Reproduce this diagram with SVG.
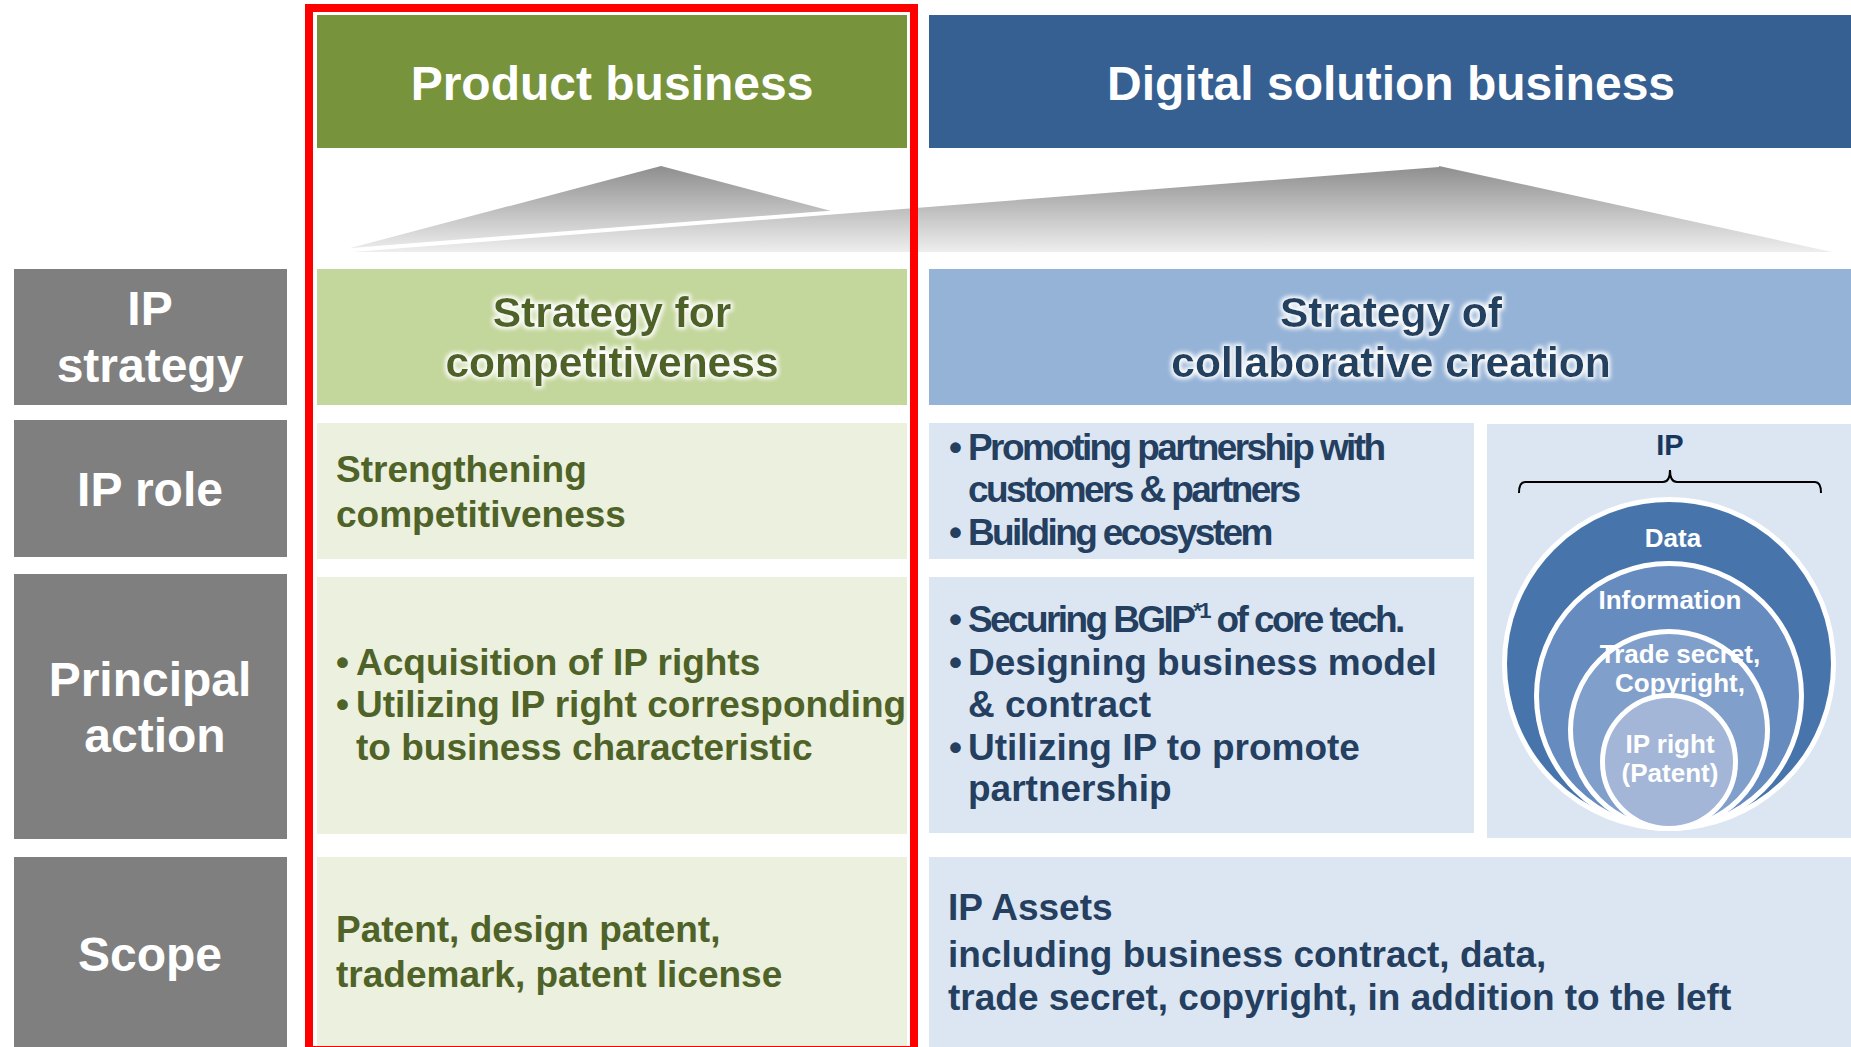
<svg xmlns="http://www.w3.org/2000/svg" width="1851" height="1047" viewBox="0 0 1851 1047">
  <style>
    text { font-family: "Liberation Sans", Arial, sans-serif; font-weight: bold; }
    .hdr { font-size: 48px; fill: #ffffff; text-anchor: middle; }
    .lbl { font-size: 48px; fill: #ffffff; text-anchor: middle; }
    .strat { font-size: 42.5px; text-anchor: middle; }
    .g { fill: #4F6228; }
    .b { fill: #243F60; }
    .body { font-size: 37px; }
    .cond { letter-spacing: -2.6px; }
    .circ { font-size: 26px; fill: #ffffff; text-anchor: middle; }
    .ring { stroke: #ffffff; stroke-width: 5; }
  </style>
  <defs>
    <linearGradient id="tri" gradientUnits="userSpaceOnUse" x1="0" y1="166" x2="0" y2="252">
      <stop offset="0" stop-color="#8E8E8E"/>
      <stop offset="1" stop-color="#EEEEEE"/>
    </linearGradient>
    <filter id="glow" x="-10%" y="-40%" width="120%" height="180%">
      <feMorphology in="SourceAlpha" operator="dilate" radius="1.5" result="d"/>
      <feGaussianBlur in="d" stdDeviation="2" result="bl"/>
      <feFlood flood-color="#ffffff" result="w"/>
      <feComposite in="w" in2="bl" operator="in" result="glowc"/>
      <feMerge>
        <feMergeNode in="glowc"/>
        <feMergeNode in="SourceGraphic"/>
      </feMerge>
    </filter>
  </defs>

  <rect x="0" y="0" width="1851" height="1047" fill="#ffffff"/>

  <!-- Headers -->
  <g id="header-product">
    <rect x="317" y="15" width="590" height="133" fill="#77933C"/>
    <text class="hdr" x="612" y="100">Product business</text>
  </g>
  <g id="header-digital">
    <rect x="929" y="15" width="922" height="133" fill="#366092"/>
    <text class="hdr" x="1391" y="100">Digital solution business</text>
  </g>

  <!-- Gradient triangles -->
  <g id="triangles">
    <polygon points="339,251 661,166 983,251" fill="url(#tri)"/>
    <polygon points="339,252 1439,166 1832,252" fill="url(#tri)"/>
    <line x1="339" y1="251" x2="1439" y2="165" stroke="#ffffff" stroke-width="4"/>
  </g>

  <!-- Row labels -->
  <g id="label-ip-strategy">
    <rect x="14" y="269" width="273" height="136" fill="#7F7F7F"/>
    <text class="lbl" x="150" y="325">IP</text>
    <text class="lbl" x="150" y="382">strategy</text>
  </g>
  <g id="label-ip-role">
    <rect x="14" y="420" width="273" height="137" fill="#7F7F7F"/>
    <text class="lbl" x="150" y="506">IP role</text>
  </g>
  <g id="label-principal-action">
    <rect x="14" y="574" width="273" height="265" fill="#7F7F7F"/>
    <text class="lbl" x="150" y="696">Principal</text>
    <text class="lbl" x="155" y="752">action</text>
  </g>
  <g id="label-scope">
    <rect x="14" y="857" width="273" height="190" fill="#7F7F7F"/>
    <text class="lbl" x="150" y="971">Scope</text>
  </g>

  <!-- Product business column -->
  <g id="product-strategy">
    <rect x="317" y="269" width="590" height="136" fill="#C3D69B"/>
    <text class="strat g" filter="url(#glow)"><tspan x="612" y="327">Strategy for</tspan><tspan x="612" y="377">competitiveness</tspan></text>
  </g>
  <g id="product-role">
    <rect x="317" y="423" width="590" height="136" fill="#EBF1DE"/>
    <text class="g body"><tspan x="336" y="482">Strengthening</tspan><tspan x="336" y="527">competitiveness</tspan></text>
  </g>
  <g id="product-action">
    <rect x="317" y="577" width="590" height="257" fill="#EBF1DE"/>
    <text class="g body"><tspan x="336" y="675">•</tspan><tspan x="356" y="675">Acquisition of IP rights</tspan><tspan x="336" y="717">•</tspan><tspan x="356" y="717">Utilizing IP right corresponding</tspan><tspan x="356" y="760">to business characteristic</tspan></text>
  </g>
  <g id="product-scope">
    <rect x="317" y="857" width="590" height="190" fill="#EBF1DE"/>
    <text class="g body"><tspan x="336" y="942">Patent, design patent,</tspan><tspan x="336" y="987">trademark, patent license</tspan></text>
  </g>

  <!-- Digital solution column -->
  <g id="digital-strategy">
    <rect x="929" y="269" width="922" height="136" fill="#95B3D7"/>
    <text class="strat b" filter="url(#glow)"><tspan x="1391" y="327">Strategy of</tspan><tspan x="1391" y="377">collaborative creation</tspan></text>
  </g>
  <g id="digital-role">
    <rect x="929" y="423" width="545" height="136" fill="#DCE6F2"/>
    <text class="b body"><tspan x="949" y="460">•</tspan><tspan class="cond" x="968" y="460">Promoting partnership with</tspan><tspan class="cond" x="968" y="502">customers &amp; partners</tspan><tspan x="949" y="545">•</tspan><tspan class="cond" x="968" y="545">Building ecosystem</tspan></text>
  </g>
  <g id="digital-action">
    <rect x="929" y="577" width="545" height="256" fill="#DCE6F2"/>
    <text class="b body"><tspan x="949" y="632">•</tspan><tspan class="cond" x="968" y="632">Securing BGIP</tspan><tspan class="cond" font-size="22" dy="-14">*1</tspan><tspan class="cond" dy="14"> of core tech.</tspan><tspan x="949" y="675">•</tspan><tspan x="968" y="675">Designing business model</tspan><tspan x="968" y="717">&amp; contract</tspan><tspan x="949" y="760">•</tspan><tspan x="968" y="760">Utilizing IP to promote</tspan><tspan x="968" y="801">partnership</tspan></text>
  </g>
  <g id="digital-scope">
    <rect x="929" y="857" width="922" height="190" fill="#DCE6F2"/>
    <text class="b body"><tspan x="948" y="920">IP Assets</tspan><tspan x="948" y="967">including business contract, data,</tspan><tspan x="948" y="1010">trade secret, copyright, in addition to the left</tspan></text>
  </g>

  <!-- IP nested circles panel -->
  <g id="ip-panel">
    <rect x="1487" y="424" width="364" height="414" fill="#DCE6F2"/>
    <text x="1670" y="455" font-size="29" fill="#17375E" text-anchor="middle">IP</text>
    <path d="M1519,493 Q1519,482 1525,482 L1663,482 Q1670,482 1670,470 Q1670,482 1677,482 L1815,482 Q1821,482 1821,493" fill="none" stroke="#000000" stroke-width="2"/>
    <circle class="ring" cx="1669" cy="664" r="164.5" fill="#4775AB"/>
    <circle class="ring" cx="1669" cy="696" r="132.5" fill="#668BBF"/>
    <circle class="ring" cx="1669" cy="730" r="98.5" fill="#819FCB"/>
    <circle class="ring" cx="1669" cy="762" r="66.5" fill="#A3B6D7"/>
    <text class="circ" x="1673" y="547">Data</text>
    <text class="circ" x="1670" y="609">Information</text>
    <text class="circ" x="1680" y="663">Trade secret,</text>
    <text class="circ" x="1680" y="692">Copyright,</text>
    <text class="circ" x="1670" y="753">IP right</text>
    <text class="circ" x="1670" y="782">(Patent)</text>
  </g>

  <!-- Highlight frame -->
  <g id="highlight">
    <rect x="309" y="8" width="605" height="1042" fill="none" stroke="#FF0000" stroke-width="8"/>
  </g>

  <g id="connectors"></g>
</svg>
